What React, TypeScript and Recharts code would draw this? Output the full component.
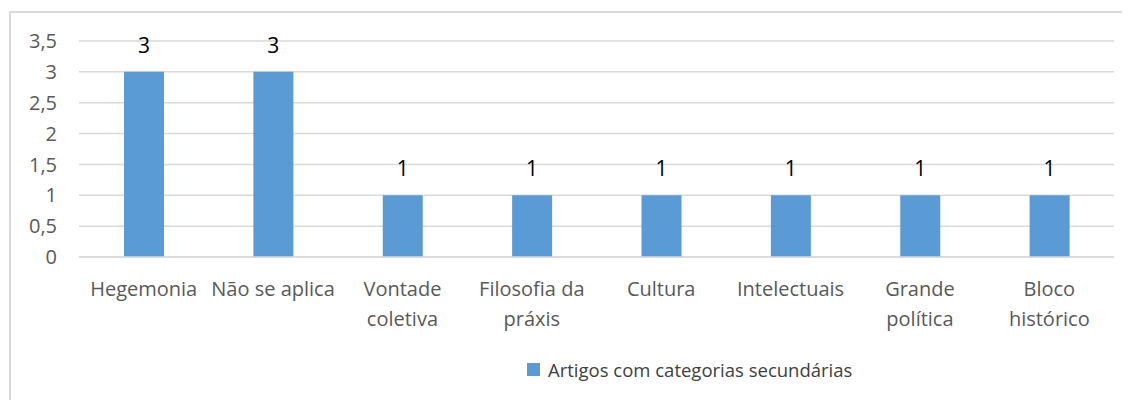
import React from 'react';
import { BarChart, Bar, XAxis, YAxis, CartesianGrid, Legend, LabelList } from 'recharts';

const categories = ['Hegemonia', 'Não se aplica', 'Vontade coletiva', 'Filosofia da práxis', 'Cultura', 'Intelectuais', 'Grande política', 'Bloco histórico'];
const values = [3, 3, 1, 1, 1, 1, 1, 1];
const yTicks = [0, 0.5, 1, 1.5, 2, 2.5, 3, 3.5];
const seriesName = 'Artigos com categorias secundárias';

const data = categories.map((c, i) => ({ name: c, value: values[i] }));

const FONT = '"Open Sans", sans-serif';
const TICK_FONT_SIZE = 20;

let ctx: CanvasRenderingContext2D | null = null;
const measure = (s: string) => {
  if (!ctx) {
    const c = document.createElement('canvas');
    ctx = c.getContext('2d');
  }
  if (!ctx) return s.length * TICK_FONT_SIZE * 0.55;
  ctx.font = `${TICK_FONT_SIZE}px "Open Sans"`;
  return ctx.measureText(s).width;
};

const wrap = (text: string, maxW: number) => {
  const words = text.split(' ');
  const lines: string[] = [];
  let cur = '';
  words.forEach((w) => {
    const next = cur ? cur + ' ' + w : w;
    if (cur && measure(next) > maxW) {
      lines.push(cur);
      cur = w;
    } else {
      cur = next;
    }
  });
  if (cur) lines.push(cur);
  return lines;
};

const CategoryTick = (props: any) => {
  const { x, y, payload } = props;
  const lines = wrap(String(payload.value), 124);
  return (
    <text x={x} y={y} textAnchor="middle" fontSize={TICK_FONT_SIZE} fill="#595959" fontFamily={FONT}>
      {lines.map((l, i) => (
        <tspan key={i} x={x} dy={i === 0 ? 14 : 30}>{l}</tspan>
      ))}
    </text>
  );
};

const LegendContent = () => (
  <div style={{ display: 'flex', justifyContent: 'flex-start', alignItems: 'center', fontFamily: FONT, fontSize: 18.5, color: '#404040', paddingLeft: 527 }}>
    <span style={{ display: 'inline-block', width: 13, height: 13, background: '#5b9bd5', marginRight: 8 }} />
    <span>{seriesName}</span>
  </div>
);

export default function App() {
  return (
    <div style={{ position: 'relative', width: 1130, height: 400, marginLeft: -8, marginTop: -8, overflow: 'hidden', background: '#fff' }}>
      <div style={{ position: 'absolute', left: 9, top: 11, width: 1300, height: 500, borderLeft: '2px solid #d9d9d9', borderTop: '2px solid #d9d9d9' }} />
      <div style={{ position: 'absolute', left: 0, top: 0 }}>
        <BarChart width={1130} height={400} data={data} margin={{ top: 41, right: 16, left: 0, bottom: 0 }} barCategoryGap={0}>
          <CartesianGrid vertical={false} stroke="#d9d9d9" strokeWidth={1.5} />
          <XAxis
            dataKey="name"
            axisLine={{ stroke: '#d9d9d9', strokeWidth: 1.5 }}
            tickLine={false}
            tickSize={0}
            tickMargin={25}
            interval={0}
            height={100}
            tick={<CategoryTick />}
          />
          <YAxis
            width={79}
            domain={[0, 3.5]}
            ticks={yTicks}
            axisLine={false}
            tickLine={false}
            tickSize={0}
            tickMargin={22}
            tickFormatter={(v: number) => String(v).replace('.', ',')}
            tick={{ fill: '#595959', fontSize: 20, fontFamily: FONT }}
          />
          <Legend verticalAlign="bottom" align="left" height={43} content={<LegendContent />} />
          <Bar dataKey="value" name={seriesName} fill="#5b9bd5" barSize={40} isAnimationActive={false}>
            <LabelList dataKey="value" position="top" offset={19} fill="#000" fontSize={21} fontFamily={FONT} />
          </Bar>
        </BarChart>
      </div>
    </div>
  );
}
